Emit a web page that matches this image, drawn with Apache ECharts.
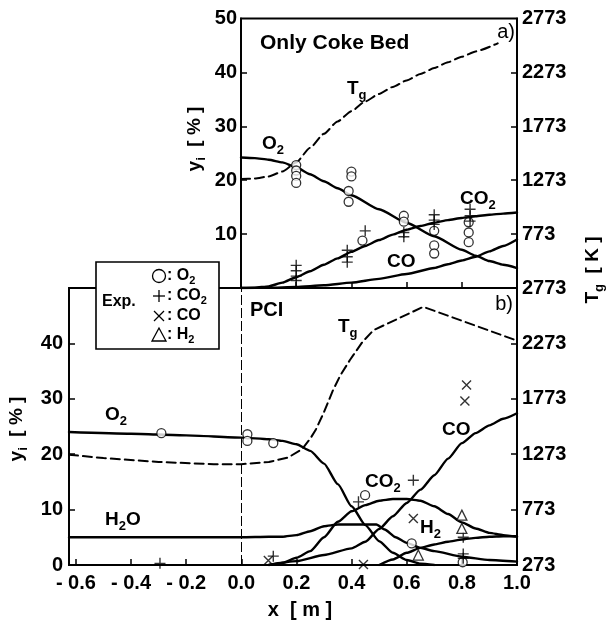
<!DOCTYPE html>
<html><head><meta charset="utf-8">
<script src="https://cdn.jsdelivr.net/npm/echarts@6/dist/echarts.min.js"></script>
<style>html,body{margin:0;padding:0;background:#fff}#c{width:607px;height:628px}</style>
</head><body><div id="c"></div>
<script>
// ---------- Panel a) Only Coke Bed : model curves [x (m), y (%)] ----------
const aO2  = [[0,24.2],[0.05,24.1],[0.1,23.8],[0.15,23.3],[0.2,22.4],[0.25,21.1],[0.3,19.8],[0.35,18.5],[0.4,17.2],[0.5,14.6],[0.6,12.1],[0.7,9.6],[0.8,7.1],[0.85,6.0],[0.9,5.0],[0.95,4.3],[1.0,3.7]];
const aCO2 = [[0,0],[0.05,0.05],[0.1,0.3],[0.15,1.0],[0.2,2.0],[0.25,3.1],[0.3,4.3],[0.35,5.5],[0.4,6.7],[0.45,7.8],[0.5,8.9],[0.55,9.9],[0.6,10.8],[0.65,11.5],[0.7,12.1],[0.75,12.6],[0.8,13.0],[0.85,13.3],[0.9,13.6],[0.95,13.8],[1.0,14.0]];
const aCO  = [[0,0],[0.1,0.05],[0.2,0.2],[0.3,0.5],[0.4,1.0],[0.5,1.7],[0.6,2.6],[0.7,3.7],[0.75,4.4],[0.8,5.1],[0.85,5.8],[0.9,6.8],[0.95,7.8],[1.0,9.0]];
// gas temperature Tg [K]
const aTg  = [[0,1283],[0.05,1288],[0.1,1308],[0.15,1353],[0.2,1438],[0.25,1573],[0.3,1703],[0.35,1818],[0.4,1913],[0.45,2003],[0.5,2073],[0.55,2138],[0.6,2198],[0.65,2258],[0.7,2313],[0.75,2368],[0.8,2418],[0.85,2468],[0.93,2543]];
// experimental points
const aO2Exp  = [[0.2,22.8],[0.2,21.8],[0.2,20.8],[0.2,19.5],[0.4,21.6],[0.4,20.7],[0.39,18.0],[0.39,16.0],[0.44,8.8],[0.59,13.4],[0.59,12.3],[0.70,10.6],[0.70,7.9],[0.70,6.4],[0.825,12.2],[0.825,10.3],[0.825,8.5]];
const aCO2Exp = [[0.2,4.2],[0.2,3.2],[0.2,2.2],[0.2,1.4],[0.385,7.0],[0.385,5.8],[0.385,4.8],[0.45,10.6],[0.59,10.3],[0.59,9.5],[0.70,13.6],[0.70,12.6],[0.70,11.8],[0.83,14.6],[0.83,13.4],[0.83,12.4]];

// ---------- Panel b) PCI ----------
const bO2  = [[-0.625,24.0],[-0.4,23.7],[-0.2,23.4],[0,23.0],[0.1,22.7],[0.15,22.4],[0.2,21.8],[0.25,20.6],[0.3,18.3],[0.35,14.6],[0.4,10.6],[0.45,7.2],[0.5,4.3],[0.55,2.2],[0.6,0.9],[0.65,0.25],[0.7,0]];
const bH2O = [[-0.625,5.0],[-0.4,5.0],[-0.2,5.0],[0,5.0],[0.1,5.1],[0.15,5.1],[0.2,5.4],[0.25,6.1],[0.3,7.0],[0.35,7.3],[0.4,7.3],[0.45,7.3],[0.49,7.3],[0.52,6.4],[0.56,5.0],[0.6,4.0],[0.65,3.1],[0.7,2.5],[0.8,1.5],[0.9,0.9],[1.0,0.6]];
const bCO2 = [[0.1,0],[0.15,0.4],[0.2,1.3],[0.25,2.5],[0.3,5.0],[0.35,7.8],[0.4,9.7],[0.45,10.8],[0.5,11.6],[0.55,11.9],[0.6,11.9],[0.65,11.6],[0.7,10.6],[0.75,9.2],[0.8,7.7],[0.85,6.6],[0.9,5.8],[0.95,5.4],[1.0,5.1]];
const bCO  = [[0.1,0],[0.2,0.7],[0.3,1.8],[0.4,3.0],[0.45,4.2],[0.5,6.5],[0.55,8.8],[0.6,11.2],[0.65,13.6],[0.7,16.2],[0.75,19.2],[0.8,22.0],[0.85,23.8],[0.9,25.2],[0.95,26.4],[1.0,27.4]];
const bH2  = [[0.5,0],[0.55,1.0],[0.6,2.2],[0.65,3.1],[0.7,3.7],[0.75,4.2],[0.8,4.6],[0.85,4.9],[0.9,5.1],[0.95,5.2],[1.0,5.2]];
const bTg  = [[-0.625,1268],[-0.5,1238],[-0.3,1203],[-0.1,1183],[0,1183],[0.1,1203],[0.17,1243],[0.22,1318],[0.25,1413],[0.27,1493],[0.3,1653],[0.333,1853],[0.36,1988],[0.394,2123],[0.44,2288],[0.48,2393],[0.66,2603],[1.0,2298]];
const bO2Exp  = [[-0.29,23.8],[0.022,23.6],[0.022,22.4],[0.116,22.0],[0.449,12.6],[0.618,3.9],[0.803,0.5]];
const bCO2Exp = [[-0.295,0.3],[0.116,1.6],[0.425,11.4],[0.624,15.3],[0.805,5.0],[0.805,2.0],[0.805,1.2]];
const bCOExp  = [[0.098,0.8],[0.443,0.1],[0.624,8.4],[0.817,32.5],[0.811,29.6]];
const bH2Exp  = [[0.642,1.8],[0.8,9.0],[0.8,6.6]];

// ---------- tick labels ----------
const xTickVals   = [-0.6,-0.4,-0.2,0,0.2,0.4,0.6,0.8,1.0];
const xTopTicks   = [0.2,0.4,0.6,0.8];
const yTopLabels  = [10,20,30,40,50];
const yBotLabels  = [0,10,20,30,40];
const yTickMarks  = [10,20,30,40];
const tTopLabels  = [773,1273,1773,2273,2773];
const tBotLabels  = [273,773,1273,1773,2273,2773];
const tTickMarks  = [773,1273,1773,2273];

const F = '"Liberation Sans", Arial, sans-serif';
const chart = echarts.init(document.getElementById('c'), null, {renderer:'canvas'});

const lab = (m) => ({show:true, color:'#000', fontFamily:F, fontWeight:'bold', fontSize:20, margin:m, formatter:(v)=>String(v)});
const tick = (vals) => ({show:true, inside:true, length:6, customValues:vals, lineStyle:{color:'#000', width:1.5}});
const aline = {show:true, onZero:false, lineStyle:{color:'#000', width:1.8}};

function curve(data, xi, yi, dashed, smooth) {
  return {type:'line', xAxisIndex:xi, yAxisIndex:yi, data, showSymbol:false, symbol:'none',
    smooth: smooth === undefined ? 0.2 : smooth, smoothMonotone:'x', silent:true, z:3,
    lineStyle:{color:'#000', width: dashed ? 2 : 2.4, type: dashed ? [9,5] : 'solid', cap:'round', join:'round'}};
}
const PLUS = 'path://M5,0 L5,10 M0,5 L10,5';
const CROSS = 'path://M0,0 L10,10 M0,10 L10,0';
function pts(data, xi, yi, kind) {
  const s = {type:'scatter', xAxisIndex:xi, yAxisIndex:yi, data, silent:true, z:5};
  if (kind === 'o') { s.symbol = 'circle'; s.symbolSize = 9; s.itemStyle = {color:'#fff', borderColor:'#000', borderWidth:1.3}; }
  if (kind === '+') { s.symbol = PLUS; s.symbolSize = 11; s.itemStyle = {color:'none', borderColor:'#000', borderWidth:1.4}; }
  if (kind === 'x') { s.symbol = CROSS; s.symbolSize = 9; s.itemStyle = {color:'none', borderColor:'#000', borderWidth:1.4}; }
  if (kind === 't') { s.symbol = 'triangle'; s.symbolSize = 10; s.itemStyle = {color:'#fff', borderColor:'#000', borderWidth:1.3}; }
  return s;
}

const rich = {
  m:{fontSize:19, fontWeight:'bold', fontFamily:F, lineHeight:19, verticalAlign:'top', fill:'#000', color:'#000'},
  s:{fontSize:13, fontWeight:'bold', fontFamily:F, lineHeight:31, verticalAlign:'middle', fill:'#000', color:'#000'}
};
const richL = {
  m:{fontSize:16, fontWeight:'bold', fontFamily:F, lineHeight:16, verticalAlign:'top', fill:'#000', color:'#000'},
  s:{fontSize:11, fontWeight:'bold', fontFamily:F, lineHeight:26, verticalAlign:'middle', fill:'#000', color:'#000'}
};
function rt(x, cy, text, r) {
  r = r || rich;
  const h = r.m.lineHeight;
  return {type:'text', x:x, y:cy - h/2, z:20, style:{text:text, rich:r, fill:'#000', align:'left', verticalAlign:'top'}};
}
function pt(x, cy, text, size, weight, align) {
  return {type:'text', x:x, y:cy, z:20, style:{text:text, fill:'#000', fontFamily:F, fontSize:size, fontWeight:weight, align:align||'left', verticalAlign:'middle'}};
}

const bO2Series = curve(bO2, 1, 2);
bO2Series.markLine = {silent:true, symbol:'none', label:{show:false}, animation:false,
  lineStyle:{color:'#000', width:1, type:[10,3]}, data:[{xAxis:0}]};

const option = {
  animation:false,
  backgroundColor:'#fff',
  grid:[
    {left:241, width:276, top:18.5, height:269.5, show:true, borderColor:'#000', borderWidth:1.8, backgroundColor:'transparent'},
    {left:69, width:448, top:288, height:277, show:true, borderColor:'#000', borderWidth:1.8, backgroundColor:'transparent'}
  ],
  xAxis:[
    {type:'value', gridIndex:0, min:0, max:1, axisLine:aline, axisTick:tick(xTopTicks), axisLabel:{show:false}, splitLine:{show:false}},
    {type:'value', gridIndex:1, min:-0.625, max:1, axisLine:aline, axisTick:tick(xTickVals.slice(0,8)),
      axisLabel:Object.assign(lab(8), {customValues:xTickVals, formatter:(v)=> v < -0.001 ? '- ' + Math.abs(v).toFixed(1) : Math.abs(v).toFixed(1)}), splitLine:{show:false}}
  ],
  yAxis:[
    {type:'value', gridIndex:0, position:'left', min:0, max:50, axisLine:aline, axisTick:tick(yTickMarks),
      axisLabel:Object.assign(lab(4), {customValues:yTopLabels}), splitLine:{show:false}},
    {type:'value', gridIndex:0, position:'right', min:273, max:2773, axisLine:aline, axisTick:tick(tTickMarks),
      axisLabel:Object.assign(lab(5), {customValues:tTopLabels}), splitLine:{show:false}},
    {type:'value', gridIndex:1, position:'left', min:0, max:50, axisLine:aline, axisTick:tick(yTickMarks),
      axisLabel:Object.assign(lab(6), {customValues:yBotLabels}), splitLine:{show:false}},
    {type:'value', gridIndex:1, position:'right', min:273, max:2773, axisLine:aline, axisTick:tick(tTickMarks),
      axisLabel:Object.assign(lab(5), {customValues:tBotLabels}), splitLine:{show:false}}
  ],
  series:[
    curve(aO2,0,0), curve(aCO2,0,0), curve(aCO,0,0), curve(aTg,0,1,true),
    pts(aO2Exp,0,0,'o'), pts(aCO2Exp,0,0,'+'),
    bO2Series, curve(bH2O,1,2), curve(bCO2,1,2), curve(bCO,1,2), curve(bH2,1,2), curve(bTg,1,3,true,false),
    pts(bO2Exp,1,2,'o'), pts(bCO2Exp,1,2,'+'), pts(bCOExp,1,2,'x'), pts(bH2Exp,1,2,'t')
  ],
  graphic:[
    // panel a annotations
    pt(260, 43, 'Only Coke Bed', 21, 'bold'),
    pt(515, 32, 'a)', 20, 'normal', 'right'),
    rt(347, 89, '{m|T}{s|g}'),
    rt(262, 144, '{m|O}{s|2}'),
    rt(460, 199, '{m|CO}{s|2}'),
    rt(387, 262, '{m|CO}'),
    // panel b annotations
    pt(250, 310, 'PCI', 20, 'bold'),
    pt(513, 304, 'b)', 20, 'normal', 'right'),
    rt(338, 327, '{m|T}{s|g}'),
    rt(105, 415, '{m|O}{s|2}'),
    rt(105, 520, '{m|H}{s|2}{m|O}'),
    rt(442, 430, '{m|CO}'),
    rt(365, 482, '{m|CO}{s|2}'),
    rt(420, 528, '{m|H}{s|2}'),
    // axis titles
    pt(300, 610, 'x  [ m ]', 20, 'bold', 'center'),
    {type:'text', x:201, y:139, rotation:Math.PI/2, z:20, style:{text:'{m|y}{s|i}{m|  [ % ]}', rich:rich, align:'center', verticalAlign:'middle'}},
    {type:'text', x:23, y:429, rotation:Math.PI/2, z:20, style:{text:'{m|y}{s|i}{m|  [ % ]}', rich:rich, align:'center', verticalAlign:'middle'}},
    {type:'text', x:599, y:270, rotation:Math.PI/2, z:20, style:{text:'{m|T}{s|g}{m|  [ K ]}', rich:rich, align:'center', verticalAlign:'middle'}},
    // legend box
    {type:'rect', z:30, shape:{x:96, y:262, width:123, height:87}, style:{fill:'#fff', stroke:'#000', lineWidth:1.6}},
    Object.assign(pt(102, 302, 'Exp.', 16, 'bold'), {z:31}),
    {type:'circle', z:31, shape:{cx:159, cy:276, r:6.5}, style:{fill:'#fff', stroke:'#000', lineWidth:1.3}},
    {type:'line', z:31, shape:{x1:159, y1:290, x2:159, y2:302}, style:{stroke:'#000', lineWidth:1.3}},
    {type:'line', z:31, shape:{x1:153, y1:296, x2:165, y2:296}, style:{stroke:'#000', lineWidth:1.3}},
    {type:'line', z:31, shape:{x1:154, y1:311, x2:164, y2:321}, style:{stroke:'#000', lineWidth:1.3}},
    {type:'line', z:31, shape:{x1:154, y1:321, x2:164, y2:311}, style:{stroke:'#000', lineWidth:1.3}},
    {type:'polygon', z:31, shape:{points:[[159,328],[152,341],[166,341]]}, style:{fill:'#fff', stroke:'#000', lineWidth:1.3}},
    Object.assign(rt(167, 276, '{m|: O}{s|2}', richL), {z:31}),
    Object.assign(rt(167, 296, '{m|: CO}{s|2}', richL), {z:31}),
    Object.assign(rt(167, 316, '{m|: CO}', richL), {z:31}),
    Object.assign(rt(167, 335, '{m|: H}{s|2}', richL), {z:31})
  ]
};
chart.setOption(option);
</script></body></html>
